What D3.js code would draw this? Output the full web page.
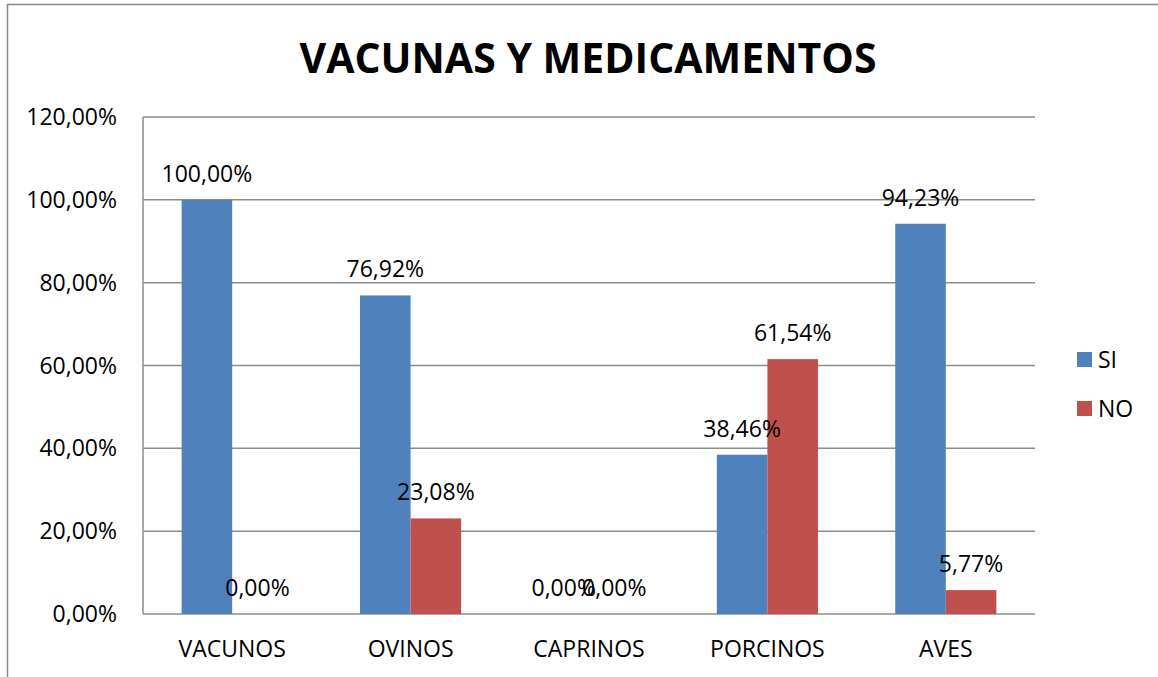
<!DOCTYPE html>
<html>
<head>
<meta charset="utf-8">
<script src="https://cdn.jsdelivr.net/npm/d3@7"></script>
<style>
  body { margin: 0; background: #fff; }
  svg { display: block; font-family: "Open Sans", sans-serif; }
</style>
</head>
<body>
<svg width="1158" height="677"></svg>
<script>
const categories = ["VACUNOS", "OVINOS", "CAPRINOS", "PORCINOS", "AVES"];
const seriesNames = ["SI", "NO"];
const siValues = [100.00, 76.92, 0.00, 38.46, 94.23];
const noValues = [0.00, 23.08, 0.00, 61.54, 5.77];
const yTicks = [0, 20, 40, 60, 80, 100, 120];
const colors = ["#4F81BD", "#C0504D"];

const svg = d3.select("svg");
const margin = {top: 117, right: 123, bottom: 63, left: 143};
const width = 1158 - margin.left - margin.right;
const height = 677 - margin.top - margin.bottom;

// outer chart frame (only top and left edges visible)
svg.append("line").attr("x1", 7).attr("x2", 1158).attr("y1", 4.5).attr("y2", 4.5)
    .attr("stroke", "#888").attr("stroke-width", 1.5);
svg.append("line").attr("x1", 7.5).attr("x2", 7.5).attr("y1", 4).attr("y2", 677)
    .attr("stroke", "#888").attr("stroke-width", 1.5);

svg.append("text")
    .attr("x", 588).attr("y", 73)
    .attr("text-anchor", "middle")
    .attr("font-size", 41).attr("font-weight", "bold")
    .attr("fill", "#000")
    .text("VACUNAS Y MEDICAMENTOS");

const g = svg.append("g").attr("transform", `translate(${margin.left},${margin.top})`);

const x0 = d3.scaleBand().domain(categories).range([0, width])
    .paddingInner(0.433).paddingOuter(0.2165);
const x1 = d3.scaleBand().domain(seriesNames).range([0, x0.bandwidth()]);
const y = d3.scaleLinear().domain([0, 120]).range([height, 0]);

// gridlines
g.selectAll("line.grid")
    .data(yTicks)
    .enter().append("line")
        .attr("class", "grid")
        .attr("x1", 0).attr("x2", width)
        .attr("y1", d => y(d)).attr("y2", d => y(d))
        .attr("stroke", "#8c8c8c").attr("stroke-width", 1.5);

// y axis line
g.append("line").attr("x1", 0).attr("x2", 0).attr("y1", 0).attr("y2", height)
    .attr("stroke", "#8c8c8c").attr("stroke-width", 1.5);

const fmt = v => v.toFixed(2).replace(".", ",") + "%";

g.selectAll("text.ytick")
    .data(yTicks)
    .enter().append("text")
        .attr("class", "ytick")
        .attr("x", -26).attr("y", d => y(d) + 8)
        .attr("text-anchor", "end")
        .attr("font-size", 23)
        .text(d => fmt(d));

g.selectAll("text.xtick")
    .data(categories)
    .enter().append("text")
        .attr("class", "xtick")
        .attr("x", d => x0(d) + x0.bandwidth() / 2)
        .attr("y", height + 43)
        .attr("text-anchor", "middle")
        .attr("font-size", 23)
        .text(d => d);

const rows = categories.map((c, i) => ({cat: c, values: [siValues[i], noValues[i]]}));

const groups = g.selectAll("g.cat")
    .data(rows)
    .enter().append("g")
        .attr("class", "cat")
        .attr("transform", d => `translate(${x0(d.cat)},0)`);

groups.selectAll("rect")
    .data(d => d.values.map((v, j) => ({key: seriesNames[j], v: v, j: j})))
    .enter().append("rect")
        .attr("x", d => x1(d.key))
        .attr("width", x1.bandwidth())
        .attr("y", d => y(d.v))
        .attr("height", d => height - y(d.v))
        .attr("fill", d => colors[d.j]);

groups.selectAll("text.lbl")
    .data(d => d.values.map((v, j) => ({key: seriesNames[j], v: v})))
    .enter().append("text")
        .attr("class", "lbl")
        .attr("x", d => x1(d.key) + x1.bandwidth() / 2)
        .attr("y", d => y(d.v) - 18)
        .attr("text-anchor", "middle")
        .attr("font-size", 23)
        .text(d => fmt(d.v));

// legend
const legend = svg.append("g").attr("transform", "translate(1077,352)");
seriesNames.forEach((s, i) => {
    legend.append("rect").attr("x", 0).attr("y", i * 49).attr("width", 15).attr("height", 15)
        .attr("fill", colors[i]);
    legend.append("text").attr("x", 21).attr("y", i * 49 + 16)
        .attr("font-size", 23).text(s);
});
</script>
</body>
</html>
